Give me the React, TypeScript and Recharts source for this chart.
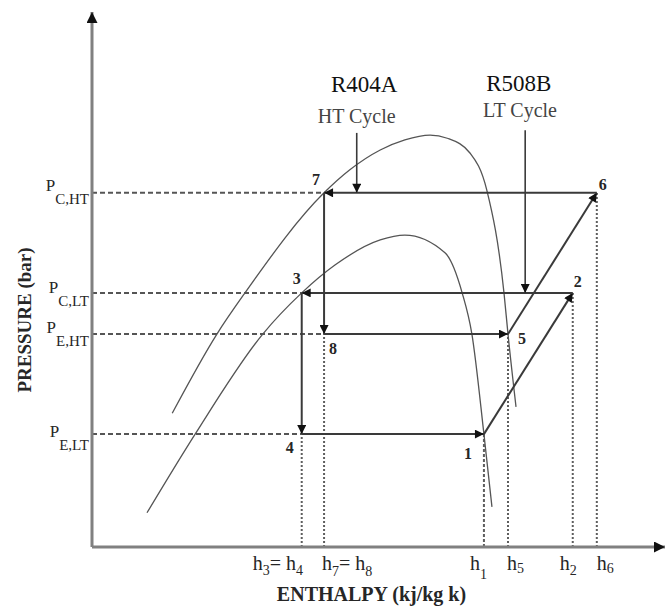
import React from 'react';
import { ComposedChart, Line, Scatter, XAxis, YAxis, ReferenceLine, Label } from 'recharts';

// schematic units: enthalpy and pressure both run 0–100 along the axes
const STATE_IDS = ['1', '2', '3', '4', '5', '6', '7', '8'];
const STATE_H = [68.4, 83.9, 36.6, 36.6, 72.6, 88.1, 40.5, 40.5];
const STATE_P = [21.1, 47.5, 47.5, 21.1, 39.8, 66.2, 66.2, 39.8];

// process order (indices into the state arrays)
const LT_PATH = [[0, 1], [1, 2], [2, 3], [3, 0]];
const HT_PATH = [[4, 5], [5, 6], [6, 7], [7, 4]];

// saturation domes
const HT_DOME_H = [14.0, 21.8, 26.7, 40.5, 45.0, 50.3, 54.6, 59.0, 62.0, 66.0, 68.9, 71.9, 72.6, 74.0];
const HT_DOME_P = [25.0, 39.8, 47.5, 66.2, 70.5, 74.2, 76.1, 77.0, 76.4, 73.6, 66.7, 47.5, 39.8, 26.2];
const LT_DOME_H = [9.6, 18.0, 29.8, 36.6, 42.4, 50.3, 54.6, 61.6, 64.6, 66.3, 68.4, 69.8];
const LT_DOME_P = [6.4, 21.1, 39.8, 47.5, 52.7, 57.4, 58.3, 55.0, 47.5, 39.8, 21.1, 7.5];

const P_TICKS = [21.1, 39.8, 47.5, 66.2];
const P_TICK_LABELS = [['P', 'E,LT'], ['P', 'E,HT'], ['P', 'C,LT'], ['P', 'C,HT']];
const P_GUIDE_STATE = [3, 7, 2, 6]; // state each pressure guide runs to
const H_TICKS = [36.6, 40.5, 68.4, 72.6, 83.9, 88.1];
const H_TICK_LABELS = [['h', '3', '= h', '4'], ['h', '7', '= h', '8'], ['h', '1'], ['h', '5'], ['h', '2'], ['h', '6']];
const H_GUIDE_STATE = [3, 7, 0, 4, 1, 5]; // state each enthalpy guide rises to

const NOTE_TEXT = ['R404A', 'HT Cycle', 'R508B', 'LT Cycle'];
const NOTE_H = [47.5, 46.2, 74.5, 74.7];
const NOTE_P = [85.0, 79.3, 85.2, 80.3];

const POINTER_H = [46.2, 75.6];
const POINTER_TOP = [77.4, 77.9];
const POINTER_END = [66.2, 47.5];

// styling / placement tweaks (pixels)
const FONT = '"Liberation Serif", "Times New Roman", serif';
const INK = '#262626';
const STATE_LABEL_DX = [-16, 5, -5, -12, 14, 6, -8, 9];
const STATE_LABEL_DY = [19, -11, -14, 13, 4, -8, -13, 14];
const XTICK_DX = [-49, -2, -14, -1, -13, 0];
const XTICK_SUB_DY = [5, 6, 9, 3, 5, 3];
const H_GUIDE_DASH = ['2 2', '2 2', '3 2', '2 2', '2 2', '2 2'];
const PTICK_DY = [3, -1, 0, -2];
const NOTE_SIZE = [23, 20, 23, 20];

const pts = (hs: number[], ps: number[]) => hs.map((h, i) => ({ h, p: ps[i] }));
const seg = (a: number, b: number) => [
  { h: STATE_H[a], p: STATE_P[a] },
  { h: STATE_H[b], p: STATE_P[b] },
];

function HTick(props: any) {
  const { x, y, payload } = props;
  const i = H_TICKS.indexOf(payload.value);
  if (i < 0) return null;
  const parts = H_TICK_LABELS[i];
  const s = XTICK_SUB_DY[i];
  return (
    <text x={x + XTICK_DX[i]} y={y + 23} fontFamily={FONT} fill={INK} textAnchor="start">
      {parts.map((t, k) =>
        k % 2 === 0 ? (
          <tspan key={k} fontSize={20} dy={k === 0 ? 0 : -s}>{t}</tspan>
        ) : (
          <tspan key={k} fontSize={14} dy={s}>{t}</tspan>
        )
      )}
    </text>
  );
}

function PTick(props: any) {
  const { x, y, payload } = props;
  const i = P_TICKS.indexOf(payload.value);
  if (i < 0) return null;
  const [main, sub] = P_TICK_LABELS[i];
  return (
    <text x={x - 3} y={y + PTICK_DY[i]} fontFamily={FONT} fill={INK} textAnchor="end">
      <tspan fontSize={17}>{main}</tspan>
      <tspan fontSize={15} dy={13}>{sub}</tspan>
    </text>
  );
}

const stateLabelData = STATE_IDS.map((id, i) => ({ h: STATE_H[i], p: STATE_P[i], id, i }));
const noteData = NOTE_TEXT.map((text, i) => ({ h: NOTE_H[i], p: NOTE_P[i], text, i }));

const renderStateLabel = (props: any) => {
  const { cx, cy, payload } = props;
  const i = payload.i;
  return (
    <text x={cx + STATE_LABEL_DX[i]} y={cy + STATE_LABEL_DY[i]} textAnchor="middle" dominantBaseline="central"
      fontFamily={FONT} fontWeight="bold" fontSize={16} fill={INK}>
      {payload.id}
    </text>
  );
};

const renderNote = (props: any) => {
  const { cx, cy, payload } = props;
  return (
    <text x={cx} y={cy} textAnchor="middle" fontFamily={FONT} fontSize={NOTE_SIZE[payload.i]}
      fill={payload.i % 2 === 0 ? '#111' : '#444'}>
      {payload.text}
    </text>
  );
};

export default function App() {
  return (
    <div style={{ position: 'absolute', left: 0, top: 0, width: 670, height: 607, background: '#fff' }}>
      <svg width={0} height={0} style={{ position: 'absolute' }}>
        <defs>
          <marker id="arrowHead" viewBox="0 0 10 10" refX={10} refY={5} markerWidth={11} markerHeight={9}
            markerUnits="userSpaceOnUse" orient="auto">
            <path d="M0,0 L10,5 L0,10 z" fill="#111" />
          </marker>
          <marker id="axisHead" viewBox="0 0 10 10" refX={10} refY={5} markerWidth={13} markerHeight={11}
            markerUnits="userSpaceOnUse" orient="auto-start-reverse">
            <path d="M0,0 L10,5 L0,10 z" fill="#111" />
          </marker>
        </defs>
      </svg>
      <ComposedChart width={670} height={607} margin={{ top: 12, right: 5, bottom: 0, left: 0 }}>
        <XAxis dataKey="h" type="number" domain={[0, 100]} ticks={H_TICKS} allowDataOverflow
          height={60} tickSize={0} tickMargin={0} tickLine={false} interval={0}
          axisLine={{ stroke: '#808080', strokeWidth: 3, markerEnd: 'url(#axisHead)' }}
          tick={<HTick />}>
          <Label
            content={(p: any) => (
              <text x={p.viewBox.x + p.viewBox.width / 2 - 7} y={p.viewBox.y + 54} textAnchor="middle"
                fontFamily={FONT} fontWeight="bold" fontSize={20} fill={INK}>
                ENTHALPY (kj/kg k)
              </text>
            )}
          />
        </XAxis>
        <YAxis dataKey="p" type="number" domain={[0, 100]} ticks={P_TICKS} allowDataOverflow
          width={92} tickSize={0} tickMargin={0} tickLine={false} interval={0}
          axisLine={{ stroke: '#808080', strokeWidth: 3, markerStart: 'url(#axisHead)' }}
          tick={<PTick />}>
          <Label
            content={() => (
              <text x={31} y={320} transform="rotate(-90, 31, 320)" textAnchor="middle"
                fontFamily={FONT} fontWeight="bold" fontSize={19} fill={INK}>
                PRESSURE (bar)
              </text>
            )}
          />
        </YAxis>

        {P_TICKS.map((p, k) => (
          <ReferenceLine key={`hp${k}`} segment={[{ x: 0, y: p }, { x: STATE_H[P_GUIDE_STATE[k]], y: p }]}
            stroke="#555" strokeWidth={2} strokeDasharray="5 3" />
        ))}
        {H_GUIDE_STATE.map((s, k) => (
          <ReferenceLine key={`v${k}`} segment={[{ x: STATE_H[s], y: 0 }, { x: STATE_H[s], y: STATE_P[s] }]}
            stroke="#5e5e5e" strokeWidth={2} strokeDasharray={H_GUIDE_DASH[k]} />
        ))}

        <Line data={pts(HT_DOME_H, HT_DOME_P)} dataKey="p" type="monotone" stroke="#555" strokeWidth={1.3}
          dot={false} activeDot={false} isAnimationActive={false} />
        <Line data={pts(LT_DOME_H, LT_DOME_P)} dataKey="p" type="monotone" stroke="#555" strokeWidth={1.3}
          dot={false} activeDot={false} isAnimationActive={false} />

        {[...LT_PATH, ...HT_PATH].map(([a, b]) => (
          <Line key={`c${a}${b}`} data={seg(a, b)} dataKey="p" type="linear" stroke="#3a3a3a" strokeWidth={2}
            dot={false} activeDot={false} isAnimationActive={false} markerEnd="url(#arrowHead)" />
        ))}

        {POINTER_H.map((h, k) => (
          <Line key={`ptr${k}`} data={[{ h, p: POINTER_TOP[k] }, { h, p: POINTER_END[k] }]} dataKey="p"
            type="linear" stroke="#3a3a3a" strokeWidth={1.6} dot={false} activeDot={false}
            isAnimationActive={false} markerEnd="url(#arrowHead)" />
        ))}

        <Scatter data={stateLabelData} shape={renderStateLabel} isAnimationActive={false} />
        <Scatter data={noteData} shape={renderNote} isAnimationActive={false} />
      </ComposedChart>
    </div>
  );
}
